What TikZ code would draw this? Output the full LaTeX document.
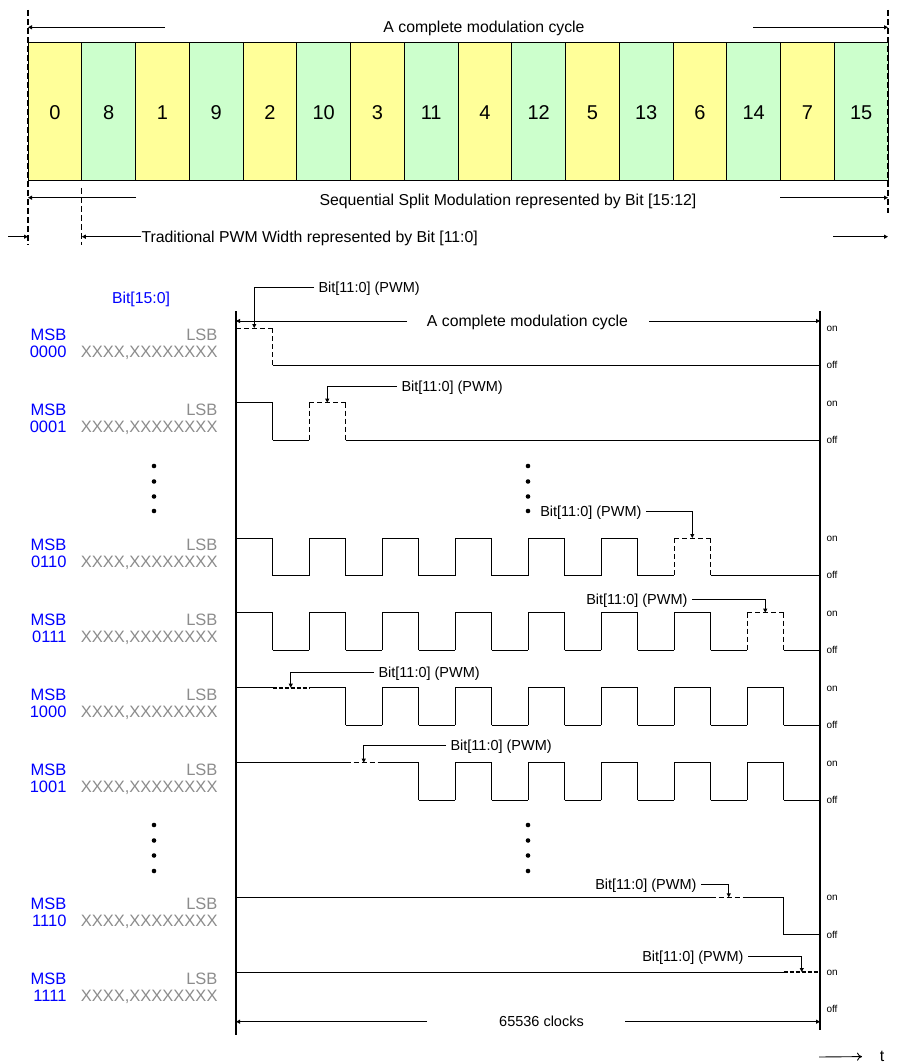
\documentclass[tikz,border=0pt]{standalone}
\usepackage{fontspec}
\setmainfont{Liberation Sans}
\usetikzlibrary{arrows.meta, positioning}

\definecolor{cellyellow}{HTML}{FFFF99}
\definecolor{cellgreen}{HTML}{CCFFCC}
\definecolor{msbblue}{HTML}{0000FF}
\definecolor{lsbgray}{HTML}{8C8C8C}

\tikzset{
  cell/.style={draw, line width=1pt, minimum width=53.75pt, minimum height=138pt,
    inner sep=0pt, text height=14.3pt, text depth=0pt, font=\fontsize{20}{24}\selectfont},
  toplbl/.style={inner sep=0pt, text height=11.3pt, text depth=0pt, font=\fontsize{15.8}{19}\selectfont},
  pwmlbl/.style={inner ysep=0pt, inner xsep=4pt, text height=10.4pt, text depth=0pt, font=\fontsize{14.5}{17}\selectfont},
  msb/.style={anchor=east, inner sep=0pt, text height=11.8pt, text depth=0pt, text=msbblue, font=\fontsize{16.5}{19}\selectfont},
  lsb/.style={msb, text=lsbgray},
  onoff/.style={anchor=base west, inner sep=0pt, font=\fontsize{10}{12}\selectfont},
  dimline/.style={line width=0.9pt, -{Triangle[length=4pt,width=4pt]}},
  guide/.style={line width=1.2pt, dash pattern=on 6pt off 3pt},
  pwm/.style={dash pattern=on 5pt off 3pt},
  pwmbold/.style={line width=2.2pt, dash pattern=on 4pt off 2pt},
}

% #1 high level, #2 levels per slot (0 on, 1 off), #3 PWM slot, #4 its style
\newcommand\wave[4]{%
  \foreach \lv [count=\k from 0, remember=\lv as \pl (initially 0)] in {#2} {
    \pgfmathsetmacro\xl{236+36.5*\k}
    \ifnum\k=#3 \tikzset{hseg/.style={#4}}\else\tikzset{hseg/.style={}}\fi
    \draw[hseg] (\xl,#1+37.5*\lv) -- ++(36.5,0);
    \ifnum\lv=\pl\else
      \tikzset{vseg/.style={}}
      \ifnum\k=#3 \tikzset{vseg/.style={#4}}\fi
      \ifnum\numexpr\k-1\relax=#3 \tikzset{vseg/.style={#4}}\fi
      \draw[vseg] (\xl,#1) -- (\xl,#1+37.5);
    \fi
  }%
}

\begin{document}
\begin{tikzpicture}[x=1pt, y=-1pt, line width=1pt]
\useasboundingbox (0,0) rectangle (899,1064);

\foreach \n/\col [count=\i from 0] in {0/cellyellow, 8/cellgreen, 1/cellyellow, 9/cellgreen,
    2/cellyellow, 10/cellgreen, 3/cellyellow, 11/cellgreen, 4/cellyellow, 12/cellgreen,
    5/cellyellow, 13/cellgreen, 6/cellyellow, 14/cellgreen, 7/cellyellow, 15/cellgreen}
  \node[cell, fill=\col] (c\i) at (28+53.75*\i+26.875, 112) {\n};

\draw[guide] (28,10) -- (28,245);
\draw[guide] (81.75,188) -- (81.75,245);
\draw[guide] (888,10) -- (888,213);

\node[toplbl] (cycle) at (484,26.5) {A complete modulation cycle};
\coordinate (cycleL) at (165,27.3);
\coordinate (cycleLA) at (28,27.3);
\coordinate (cycleR) at (753,27.3);
\coordinate (cycleRA) at (888,27.3);
\draw[dimline] (cycleL) -- (cycleLA);
\draw[dimline] (cycleR) -- (cycleRA);

\node[toplbl] (seq) at (508,199.5) {Sequential Split Modulation represented by Bit [15:12]};
\coordinate (seqL) at (136,197.7);
\coordinate (seqLA) at (28,197.7);
\coordinate (seqR) at (780,197.7);
\coordinate (seqRA) at (888,197.7);
\draw[dimline] (seqL) -- (seqLA);
\draw[dimline] (seqR) -- (seqRA);

\node[toplbl, anchor=west] (trad) at (141,236.7) {Traditional PWM Width represented by Bit [11:0]};
\coordinate (tradA) at (81.75,236.7);
\coordinate (tradIn) at (8,236.7);
\coordinate (tradInA) at (28,236.7);
\coordinate (tradR) at (833,236.7);
\coordinate (tradRA) at (888,236.7);
\draw[dimline] (trad.west) -- (tradA);
\draw[dimline] (tradIn) -- (tradInA);
\draw[dimline] (tradR) -- (tradRA);

\node[toplbl, text=msbblue] (bits) at (141,298) {Bit[15:0]};

\draw[line width=1.2pt] (236,311) -- (236,1035);
\draw[line width=1.2pt] (820,311) -- (820,1030);

\foreach \hy/\rowval in {328/0000, 402.7/0001, 538/0110, 612.7/0111,
    687.7/1000, 762.7/1001, 897.3/1110, 972/1111} {
  \node[msb] (msb\rowval) at (67,\hy+6.5) {MSB};
  \node[msb] (val\rowval) at (67,\hy+23.5) {\rowval};
  \node[lsb] (lsb\rowval) at (218,\hy+6.5) {LSB};
  \node[lsb] (x\rowval) at (218,\hy+23.5) {XXXX,XXXXXXXX};
  \node[onoff] (on\rowval) at (826,\hy+3.3) {on};
  \node[onoff] (off\rowval) at (826,\hy+40.8) {off};
}

\wave{328}{0,1,1,1,1,1,1,1,1,1,1,1,1,1,1,1}{0}{pwm}
\wave{402.7}{0,1,0,1,1,1,1,1,1,1,1,1,1,1,1,1}{2}{pwm}
\wave{538}{0,1,0,1,0,1,0,1,0,1,0,1,0,1,1,1}{12}{pwm}
\wave{612.7}{0,1,0,1,0,1,0,1,0,1,0,1,0,1,0,1}{14}{pwm}
\wave{687.7}{0,0,0,1,0,1,0,1,0,1,0,1,0,1,0,1}{1}{pwmbold}
\wave{762.7}{0,0,0,0,0,1,0,1,0,1,0,1,0,1,0,1}{3}{pwm}
\wave{897.3}{0,0,0,0,0,0,0,0,0,0,0,0,0,0,0,1}{13}{pwm}
\wave{972}{0,0,0,0,0,0,0,0,0,0,0,0,0,0,0,0}{15}{pwmbold}

\node[toplbl] (cyc2) at (527.5,321) {A complete modulation cycle};
\coordinate (cyc2L) at (407,321);
\coordinate (cyc2LA) at (236,321);
\coordinate (cyc2R) at (649,321);
\coordinate (cyc2RA) at (820,321);
\draw[dimline] (cyc2L) -- (cyc2LA);
\draw[dimline] (cyc2R) -- (cyc2RA);

\node[pwmlbl, anchor=west] (pA) at (314,287.3) {Bit[11:0] (PWM)};
\node[pwmlbl, anchor=west] (pB) at (397,386) {Bit[11:0] (PWM)};
\node[pwmlbl, anchor=east] (pC) at (646,511.7) {Bit[11:0] (PWM)};
\node[pwmlbl, anchor=east] (pD) at (692,599) {Bit[11:0] (PWM)};
\node[pwmlbl, anchor=west] (pE) at (374,672.7) {Bit[11:0] (PWM)};
\node[pwmlbl, anchor=west] (pF) at (446,745) {Bit[11:0] (PWM)};
\node[pwmlbl, anchor=east] (pG) at (701,884) {Bit[11:0] (PWM)};
\node[pwmlbl, anchor=east] (pH) at (748,956) {Bit[11:0] (PWM)};
\coordinate (tA) at (254.25,328);
\coordinate (tB) at (327.25,402.7);
\coordinate (tC) at (692.25,538);
\coordinate (tD) at (765.25,612.7);
\coordinate (tE) at (290.75,687.7);
\coordinate (tF) at (363.75,762.7);
\coordinate (tG) at (728.75,897.3);
\coordinate (tH) at (801.75,972);
\draw[dimline] (pA.west) -| (tA);
\draw[dimline] (pB.west) -| (tB);
\draw[dimline] (pC.east) -| (tC);
\draw[dimline] (pD.east) -| (tD);
\draw[dimline] (pE.west) -| (tE);
\draw[dimline] (pF.west) -| (tF);
\draw[dimline] (pG.east) -| (tG);
\draw[dimline] (pH.east) -| (tH);

\foreach \y in {466,481.5,496.5,511,825,840.5,855.5,871} {
  \fill (154,\y) circle (2.3pt);
  \fill (528,\y) circle (2.3pt);
}

\node[pwmlbl, inner xsep=0pt] (clk) at (541.5,1021.7) {65536 clocks};
\coordinate (clkL) at (427,1021.7);
\coordinate (clkLA) at (236,1021.7);
\coordinate (clkR) at (625,1021.7);
\coordinate (clkRA) at (820,1021.7);
\draw[dimline] (clkL) -- (clkLA);
\draw[dimline] (clkR) -- (clkRA);

\coordinate (tstart) at (819,1057);
\node[anchor=base, inner sep=0pt, font=\fontsize{16}{19}\selectfont] (tlbl) at (882,1061.7) {t};
\draw[line width=0.9pt, -{To[length=5pt,width=8pt]}] (tstart) -- (tlbl.west -| 862,0);
\end{tikzpicture}
\end{document}
